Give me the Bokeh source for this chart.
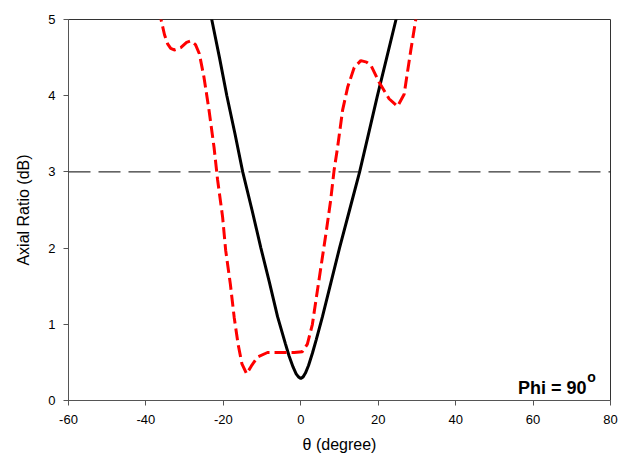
from bokeh.plotting import figure
from bokeh.models import Span, Label, FixedTicker, Range1d
from bokeh.embed import file_html
from bokeh.resources import INLINE

# ---- data ----
theta_black = [-24.0, -23.0, -21.0, -19.1, -17.0, -15.0, -12.6, -10.3, -8.1, -6.0, -4.0, -3.0, -2.0,
               -1.2, -0.6, 0.0, 0.6, 1.2, 2.0, 3.0, 4.0, 5.6, 7.8, 10.0, 12.6, 15.2, 17.5, 19.8,
               22.2, 24.6, 25.5]
ar_black = [5.25, 5.0, 4.5, 4.0, 3.5, 3.0, 2.5, 2.0, 1.55, 1.1, 0.75, 0.58, 0.44,
            0.35, 0.31, 0.29, 0.31, 0.36, 0.46, 0.62, 0.8, 1.1, 1.55, 2.0, 2.5, 3.0, 3.5, 4.0,
            4.5, 5.0, 5.2]

theta_red = [-37.0, -36.1, -35.2, -34.4, -33.6, -32.7, -31.0, -29.5, -28.4, -27.2, -26.2, -25.0,
             -23.7, -22.4, -21.5, -20.2, -19.4, -18.2, -17.2, -16.2, -15.2, -14.0, -12.8,
             -11.2, -8.6, -5.2, -1.7, 0.4, 1.7, 3.0, 3.9, 5.2, 6.5, 7.7, 8.6, 9.5, 10.8,
             12.1, 13.8, 15.5, 17.0, 18.1, 20.2, 22.8, 25.0, 26.7, 27.5, 28.4, 29.7, 30.3]
ar_red = [5.35, 5.0, 4.8, 4.68, 4.62, 4.60, 4.63, 4.70, 4.72, 4.67, 4.55, 4.24,
          3.81, 3.32, 2.90, 2.41, 1.97, 1.53, 1.09, 0.74, 0.48, 0.35, 0.45,
          0.57, 0.63, 0.63, 0.63, 0.64, 0.74, 1.0, 1.31, 1.75, 2.19, 2.62, 3.02, 3.32, 3.81,
          4.11, 4.37, 4.46, 4.44, 4.40, 4.18, 3.96, 3.86, 4.02, 4.29, 4.59, 5.0, 5.25]

AR_LIMIT = 3
x_ticks = [-60, -40, -20, 0, 20, 40, 60, 80]
y_ticks = [0, 1, 2, 3, 4, 5]

FONT = "Liberation Sans"

p = figure(width=622, height=459, output_backend="svg", toolbar_location=None,
           x_range=Range1d(-60, 80), y_range=Range1d(0, 5),
           min_border_left=68, min_border_right=12, min_border_top=19, min_border_bottom=59)

p.xgrid.visible = False
p.ygrid.visible = False
p.outline_line_color = "#333333"
p.outline_line_width = 1
p.background_fill_color = "white"
p.border_fill_color = "white"

for ax in (p.xaxis[0], p.yaxis[0]):
    ax.axis_line_color = "#555555"
    ax.major_tick_line_color = "#555555"
    ax.major_tick_out = 5
    ax.major_tick_in = 0
    ax.minor_tick_line_color = None
    ax.major_label_text_font = FONT
    ax.major_label_text_font_size = "13px"
    ax.major_label_text_color = "black"
    ax.axis_label_text_font = FONT
    ax.axis_label_text_font_size = "16px"
    ax.axis_label_text_font_style = "normal"
    ax.axis_label_text_color = "black"

p.xaxis.ticker = FixedTicker(ticks=x_ticks)
p.yaxis.ticker = FixedTicker(ticks=y_ticks)
p.xaxis.major_label_overrides = {t: str(t) for t in x_ticks}
p.xaxis.axis_label = "θ (degree)"
p.yaxis.axis_label = "Axial Ratio (dB)"
p.xaxis.major_label_standoff = 9
p.yaxis.major_label_standoff = 8
p.xaxis.axis_label_standoff = 9
p.yaxis.axis_label_standoff = 13

p.add_layout(Span(location=AR_LIMIT, dimension="width", line_color="black",
                  line_width=1, line_dash="22 8"))

p.line(theta_black, ar_black, line_color="black", line_width=3)
p.line(theta_red, ar_red, line_color="#ff0000", line_width=3, line_dash="12 5")

p.add_layout(Label(x=73.8, y=0.17, text="Phi = 90", text_align="right",
                   text_baseline="alphabetic", text_font=FONT, text_font_size="18px",
                   text_font_style="bold", text_color="black"))
p.add_layout(Label(x=74.0, y=0.31, text="o", text_align="left",
                   text_baseline="alphabetic", text_font=FONT, text_font_size="14px",
                   text_font_style="bold", text_color="black"))

open("out.html", "w").write(file_html(p, INLINE))
